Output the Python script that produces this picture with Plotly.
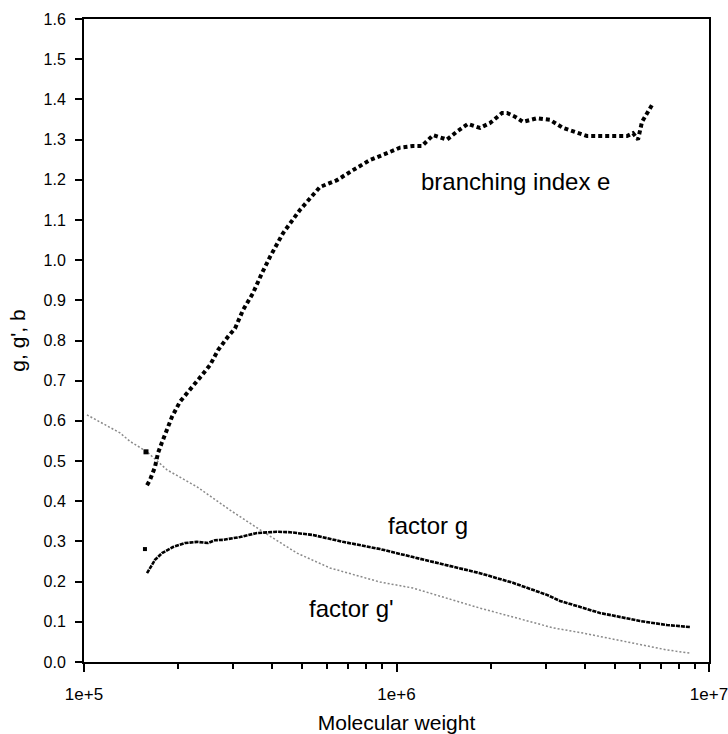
import math
import plotly.graph_objects as go

# branching index e
e_mw = [1.591e5, 1.626e5, 1.687e5, 1.725e5, 1.777e5, 1.844e5, 1.912e5, 2.029e5, 2.184e5,
        2.386e5, 2.531e5, 2.685e5, 2.891e5, 3.043e5, 3.228e5, 3.474e5, 3.712e5, 3.937e5,
        4.332e5, 4.910e5, 5.690e5, 6.451e5, 7.256e5, 8.228e5, 9.324e5, 1.026e6, 1.129e6,
        1.206e6, 1.309e6, 1.451e6, 1.550e6, 1.693e6, 1.850e6, 1.991e6, 2.176e6, 2.258e6,
        2.394e6, 2.540e6, 2.816e6, 3.099e6, 3.411e6, 3.782e6, 4.071e6, 4.479e6, 4.930e6,
        5.465e6, 5.712e6, 5.927e6, 6.104e6, 6.332e6, 6.571e6]
e_val = [0.440, 0.453, 0.485, 0.520, 0.547, 0.577, 0.610, 0.648, 0.677,
         0.714, 0.739, 0.776, 0.810, 0.830, 0.876, 0.918, 0.968, 1.008,
         1.067, 1.125, 1.182, 1.199, 1.224, 1.249, 1.266, 1.280, 1.284,
         1.284, 1.311, 1.300, 1.318, 1.339, 1.329, 1.341, 1.366, 1.366,
         1.357, 1.344, 1.353, 1.349, 1.329, 1.316, 1.309, 1.309, 1.309,
         1.309, 1.316, 1.300, 1.344, 1.366, 1.386]
e_extra_mw = [1.579e5]
e_extra_val = [0.523]

# factor g
g_mw = [1.591e5, 1.687e5, 1.777e5, 1.926e5, 2.105e5, 2.299e5, 2.494e5, 2.626e5, 2.786e5,
        3.157e5, 3.578e5, 4.145e5, 4.562e5, 5.404e5, 6.742e5, 8.857e5, 1.129e6, 1.451e6,
        1.850e6, 2.359e6, 3.031e6, 3.336e6, 4.479e6, 6.015e6, 7.336e6, 8.694e6]
g_val = [0.221, 0.254, 0.271, 0.286, 0.296, 0.299, 0.296, 0.303, 0.304,
         0.311, 0.321, 0.324, 0.323, 0.316, 0.299, 0.281, 0.261, 0.241,
         0.221, 0.197, 0.167, 0.152, 0.122, 0.102, 0.092, 0.087]
g_extra_mw = [1.567e5]
g_extra_val = [0.281]

# factor g'
gp_mw = [1.022e5, 1.304e5, 1.404e5, 1.591e5, 1.687e5, 1.844e5, 2.299e5, 2.933e5, 3.740e5,
         4.803e5, 6.127e5, 7.814e5, 8.857e5, 1.129e6, 1.451e6, 1.850e6, 2.359e6, 3.168e6,
         3.953e6, 5.712e6, 7.336e6, 8.694e6]
gp_val = [0.615, 0.570, 0.549, 0.523, 0.505, 0.478, 0.436, 0.378, 0.324,
          0.271, 0.234, 0.212, 0.199, 0.184, 0.159, 0.134, 0.112, 0.085,
          0.072, 0.047, 0.030, 0.022]

x_tickvals = [1e5, 1e6, 1e7]
x_ticktext = ["1e+5", "1e+6", "1e+7"]
y_tickvals = [0.0, 0.1, 0.2, 0.3, 0.4, 0.5, 0.6, 0.7, 0.8, 0.9, 1.0, 1.1, 1.2, 1.3, 1.4, 1.5, 1.6]
y_ticktext = [f"{v:.1f}" for v in y_tickvals]

labels = [
    ("branching index e", 2.41e6, 1.195),
    ("factor g", 1.26e6, 0.34),
    ("factor g'", 7.2e5, 0.132),
]

FONT = "Liberation Sans, Arial, sans-serif"

fig = go.Figure()
fig.add_trace(go.Scatter(x=gp_mw, y=gp_val, mode="lines",
                         line=dict(color="#8a8a8a", width=1.5, dash="2px,2px"),
                         showlegend=False, hoverinfo="skip"))
fig.add_trace(go.Scatter(x=g_mw, y=g_val, mode="lines",
                         line=dict(color="black", width=2.6, dash="4px,1px"),
                         showlegend=False))
fig.add_trace(go.Scatter(x=g_extra_mw, y=g_extra_val, mode="markers",
                         marker=dict(color="black", size=4, symbol="square"),
                         showlegend=False))
fig.add_trace(go.Scatter(x=e_mw, y=e_val, mode="lines",
                         line=dict(color="black", width=4, dash="4px,3px"),
                         showlegend=False))
fig.add_trace(go.Scatter(x=e_extra_mw, y=e_extra_val, mode="markers",
                         marker=dict(color="black", size=5, symbol="square"),
                         showlegend=False))

for text, x, y in labels:
    fig.add_annotation(x=math.log10(x), y=y, xref="x", yref="y", text=text, showarrow=False,
                       font=dict(family=FONT, size=24, color="black"))

fig.update_layout(
    width=728, height=734,
    margin=dict(l=84, r=19, t=19, b=72),
    paper_bgcolor="white", plot_bgcolor="white",
    font=dict(family=FONT, color="black"),
    showlegend=False,
)
fig.update_xaxes(
    type="log", range=[5, 7], automargin=False,
    tickvals=x_tickvals, ticktext=x_ticktext,
    ticks="outside", ticklen=8, tickwidth=1.5, tickcolor="black",
    showline=True, linecolor="black", linewidth=2, mirror=True,
    showgrid=False, zeroline=False,
    tickfont=dict(family=FONT, size=17),
    ticklabelstandoff=8, ticklabeloverflow="allow",
    minor=dict(ticks="outside", ticklen=5, tickcolor="black", dtick="D1", showgrid=False),
    title=dict(text="Molecular weight", font=dict(family=FONT, size=21), standoff=14),
)
fig.update_yaxes(
    range=[0, 1.6], automargin=False,
    tickvals=y_tickvals, ticktext=y_ticktext,
    ticks="outside", ticklen=7, tickwidth=1.5, tickcolor="black",
    showline=True, linecolor="black", linewidth=2, mirror=True,
    showgrid=False, zeroline=False,
    tickfont=dict(family=FONT, size=16),
    ticklabelstandoff=6,
    title=dict(text="g, g', b", font=dict(family=FONT, size=21), standoff=12),
)

fig.write_html("out.html")
